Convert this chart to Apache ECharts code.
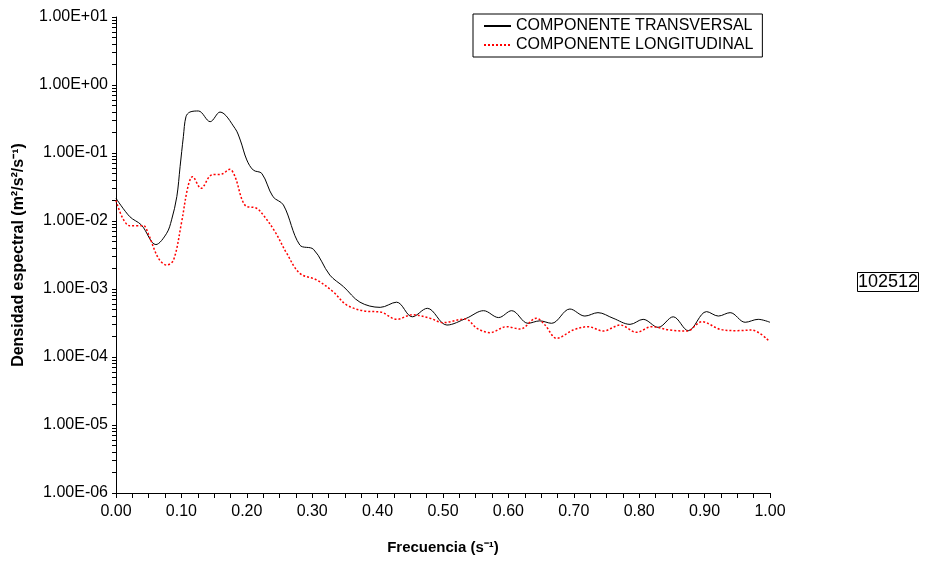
<!DOCTYPE html>
<html>
<head>
<meta charset="utf-8">
<script src="https://cdn.jsdelivr.net/npm/echarts@6/dist/echarts.min.js"></script>
<style>html,body{margin:0;padding:0;background:#fff;}#c{width:930px;height:565px;}</style>
</head>
<body>
<div id="c"></div>
<script>
// ---- data ----
const freqT = [0.000,0.021,0.039,0.061,0.0775,0.085,0.093,0.098,0.103,0.107,0.113,0.126,0.144,0.159,0.182,0.190,0.200,0.210,0.223,0.240,0.256,0.281,0.302,0.327,0.348,0.373,0.404,0.429,0.453,0.476,0.506,0.536,0.562,0.585,0.605,0.630,0.648,0.666,0.694,0.717,0.737,0.760,0.786,0.806,0.829,0.852,0.875,0.903,0.921,0.939,0.962,0.982,1.000];
const densT = [0.0216,0.0116,0.0087,0.0045,0.0066,0.0104,0.0228,0.063,0.174,0.342,0.40,0.415,0.289,0.40,0.23,0.155,0.079,0.056,0.050,0.0228,0.0172,0.00444,0.00383,0.0016,0.00108,0.00064,0.000537,0.00064,0.00039,0.00052,0.000295,0.000372,0.00048,0.00038,0.00048,0.000313,0.00034,0.000313,0.000508,0.0004,0.000449,0.000372,0.000302,0.000358,0.000273,0.00039,0.000244,0.000465,0.0004,0.000449,0.000324,0.000358,0.000324];
const freqL = [0.000,0.021,0.042,0.049,0.065,0.0775,0.088,0.100,0.110,0.117,0.130,0.146,0.162,0.174,0.182,0.197,0.215,0.225,0.243,0.261,0.281,0.307,0.332,0.353,0.383,0.404,0.429,0.453,0.480,0.500,0.534,0.552,0.572,0.597,0.618,0.643,0.656,0.674,0.699,0.722,0.745,0.771,0.796,0.819,0.847,0.873,0.896,0.924,0.949,0.972,0.998];
const densL = [0.020,0.0085,0.0085,0.0066,0.00282,0.00225,0.00267,0.00925,0.0319,0.0449,0.0302,0.0475,0.049,0.0575,0.0449,0.0172,0.0154,0.0123,0.0070,0.00335,0.0017,0.001355,0.000912,0.00058,0.00047,0.00046,0.000358,0.000417,0.000372,0.00032,0.000363,0.000264,0.000228,0.000279,0.000258,0.000372,0.000295,0.000188,0.000249,0.000279,0.000241,0.000295,0.000231,0.000279,0.000249,0.000241,0.00033,0.000255,0.000244,0.000249,0.000174];
const seriesNames = ['COMPONENTE TRANSVERSAL','COMPONENTE LONGITUDINAL'];
const yTickValues = [1e-6,1e-5,1e-4,1e-3,1e-2,1e-1,1,10];
const xTickValues = [0,0.1,0.2,0.3,0.4,0.5,0.6,0.7,0.8,0.9,1.0];
const stationLabel = '102512';

// minor log ticks (1..9 x 10^k)
const yMinorValues = [];
for (let e = -6; e < 1; e++) {
  for (let m = 1; m <= 9; m++) yMinorValues.push(+(m * Math.pow(10, e)).toPrecision(3));
}
yMinorValues.push(10);

function fmtExp(v) {
  const e = Math.round(Math.log10(v));
  const m = v / Math.pow(10, e);
  return m.toFixed(2) + 'E' + (e < 0 ? '-' : '+') + String(Math.abs(e)).padStart(2, '0');
}

const FONT = '"Liberation Sans", Arial, sans-serif';
const chart = echarts.init(document.getElementById('c'), null, {renderer: 'canvas'});
chart.setOption({
  animation: false,
  backgroundColor: '#fff',
  textStyle: {fontFamily: FONT},
  title: {
    text: stationLabel,
    left: 857, top: 272,
    padding: [1, 1],
    borderColor: '#000', borderWidth: 1,
    textStyle: {fontFamily: FONT, fontSize: 18, fontWeight: 'normal', color: '#000'}
  },
  legend: {
    orient: 'vertical',
    left: 473, top: 14,
    padding: [4, 9, 4, 10],
    itemGap: 3,
    itemWidth: 27, itemHeight: 14,
    borderColor: '#000', borderWidth: 1,
    itemStyle: {opacity: 0},
    textStyle: {fontFamily: FONT, fontSize: 16, color: '#000'},
    data: seriesNames
  },
  grid: {left: 116, right: 160, top: 17, bottom: 72, containLabel: false},
  xAxis: {
    type: 'value', min: 0, max: 1, interval: 0.1,
    name: 'Frecuencia (s⁻¹)', nameLocation: 'middle', nameGap: 47,
    nameTextStyle: {fontFamily: FONT, fontSize: 15, fontWeight: 'bold', color: '#000'},
    axisLine: {show: true, lineStyle: {color: '#000', width: 1}},
    axisTick: {show: true, length: 5, lineStyle: {color: '#000'}},
    minorTick: {show: true, splitNumber: 4, length: 5, lineStyle: {color: '#000'}},
    axisLabel: {margin: 11, fontFamily: FONT, fontSize: 16, color: '#000', formatter: v => v.toFixed(2)},
    splitLine: {show: false}, minorSplitLine: {show: false}
  },
  yAxis: {
    type: 'log', logBase: 10, min: 1e-6, max: 10,
    name: 'Densidad espectral (m²/s²/s⁻¹)', nameLocation: 'middle', nameGap: 89, nameRotate: 90,
    nameTextStyle: {fontFamily: FONT, fontSize: 16, fontWeight: 'bold', color: '#000'},
    axisLine: {show: true, lineStyle: {color: '#000', width: 1}},
    axisTick: {show: true, length: 4, customValues: yMinorValues, lineStyle: {color: '#000'}},
    axisLabel: {margin: 8, fontFamily: FONT, fontSize: 16, color: '#000', customValues: yTickValues, formatter: v => fmtExp(v)},
    splitLine: {show: false}
  },
  series: [
    {
      name: seriesNames[0], type: 'line', smooth: 0.35, symbol: 'none',
      lineStyle: {color: '#000', width: 1, type: 'solid'},
      itemStyle: {color: '#000'},
      data: freqT.map((f, i) => [f, densT[i]])
    },
    {
      name: seriesNames[1], type: 'line', smooth: 0.35, symbol: 'none',
      lineStyle: {color: '#ff0000', width: 1.5, type: [2, 2]},
      itemStyle: {color: '#ff0000'},
      data: freqL.map((f, i) => [f, densL[i]])
    }
  ]
});
</script>
</body>
</html>
